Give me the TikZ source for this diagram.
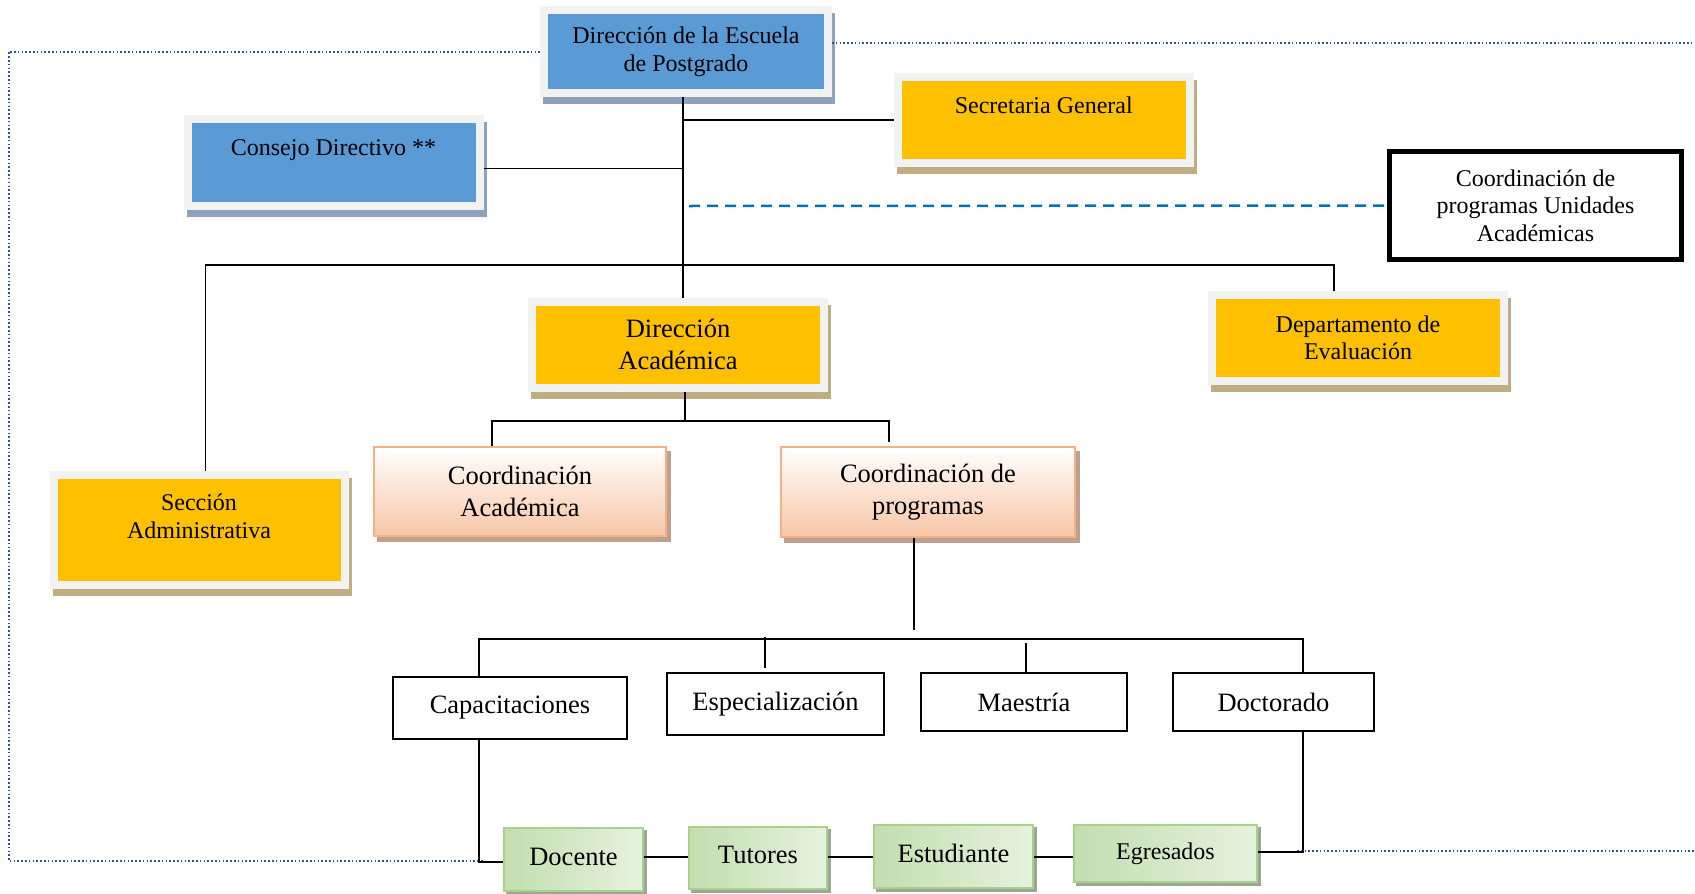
\documentclass[tikz,border=0pt]{standalone}
\usepackage{fontspec}
\setmainfont{Liberation Serif}
\usetikzlibrary{shadows}
\definecolor{orF}{HTML}{FFC000}
\definecolor{frameG}{HTML}{F2F2F2}
\definecolor{tanS}{HTML}{BFAE82}
\definecolor{blueF}{HTML}{5B9BD5}
\definecolor{blueS}{HTML}{8DA3BD}
\definecolor{peachB}{HTML}{F4B183}
\definecolor{peachF}{HTML}{F7C6A6}
\definecolor{peachS}{HTML}{BFA08E}
\definecolor{greenB}{HTML}{A9D18E}
\definecolor{greenD}{HTML}{C2DEAE}
\definecolor{greenL}{HTML}{E6F2DE}
\definecolor{greyS}{HTML}{9EA598}
\definecolor{dashB}{HTML}{0070C0}
\definecolor{dotB}{HTML}{2F5597}
\newcommand\fsA{\fontsize{24pt}{27.5pt}\selectfont}
\newcommand\fsB{\fontsize{26.5pt}{31.5pt}\selectfont}
\begin{document}
\begin{tikzpicture}[x=1pt,y=-1pt,
  base/.style={rectangle, inner sep=0pt, align=center},
  fbox/.style={base, draw=frameG, line width=8pt,
    general shadow={fill=#1, draw=#1, line width=8pt, shadow xshift=3pt, shadow yshift=-7pt}},
  obox/.style={fbox=tanS, fill=orF},
  bbox/.style={fbox=blueS, fill=blueF},
  pbox/.style={base, draw=peachB, line width=2.5pt, top color=white, bottom color=peachF,
    general shadow={fill=peachS, draw=peachS, line width=2.5pt, shadow xshift=4pt, shadow yshift=-5pt}},
  gbox/.style={base, draw=greenB, line width=2.5pt, left color=greenD, right color=greenL,
    text height=18pt, text depth=7pt,
    general shadow={fill=greyS, draw=greyS, line width=2.5pt, shadow xshift=3pt, shadow yshift=-3pt}},
  lbox/.style={base, draw=black, line width=1.3pt, fill=white},
  conn/.style={draw=black, line width=1.2pt},
  bdash/.style={draw=dashB, line width=2.5pt, dash pattern=on 11pt off 7pt},
  dotf/.style={draw=dotB, line width=2pt, dash pattern=on 1.6pt off 2.2pt}
]
\useasboundingbox (0,0) rectangle (1695,894);

% boxes
\node[bbox, minimum width=284pt, minimum height=83pt, font=\fsA] (dir) at (686,51.5) {Dirección de la Escuela\\de Postgrado};
\node[bbox, minimum width=292pt, minimum height=86.5pt, font=\fsA, text height=17pt, text depth=31.5pt] (cons) at (333.5,162.25) {Consejo Directivo **};
\node[obox, minimum width=292.5pt, minimum height=86pt, font=\fsA, text height=17pt, text depth=31pt] (sec) at (1043.75,120) {Secretaria General};
\node[base, draw=black, line width=5pt, fill=white, minimum width=292pt, minimum height=108pt, font=\fsA] (cpua) at (1535.5,205.5) {Coordinación de\\programas Unidades\\Académicas};
\node[obox, minimum width=292pt, minimum height=86pt, font=\fsB] (dacad) at (678,344.5) {Dirección\\Académica};
\node[obox, minimum width=292pt, minimum height=86pt, font=\fsA] (deval) at (1358,338) {Departamento de\\Evaluación};
\node[obox, minimum width=291.5pt, minimum height=109.5pt] (sadm) at (199.25,529.75) {};
\node[base, font=\fsA] (sadmt) at (199,516.5) {Sección\\Administrativa};
\node[pbox, minimum width=292pt, minimum height=89pt, font=\fsB] (cacad) at (520,491.5) {Coordinación\\Académica};
\node[pbox, minimum width=294pt, minimum height=90pt, font=\fsB] (cprog) at (928,492) {Coordinación de\\programas};

\node[lbox, minimum width=234pt, minimum height=62pt, font=\fsB] (capa) at (510,708) {Capacitaciones};
\node[lbox, minimum width=217pt, minimum height=62pt, font=\fsB] (espe) at (775.5,704) {Especialización};
\node[lbox, minimum width=206pt, minimum height=58pt, font=\fsB] (maes) at (1024,702) {Maestría};
\node[lbox, minimum width=201pt, minimum height=58pt, font=\fsB] (doct) at (1273.5,702) {Doctorado};

\node[gbox, minimum width=139pt, minimum height=63pt, font=\fsB] (doce) at (573.5,859.5) {Docente};
\node[gbox, minimum width=138pt, minimum height=62pt, font=\fsB] (tuto) at (758,858) {Tutores};
\node[gbox, minimum width=159pt, minimum height=63pt, font=\fsB] (estu) at (953.5,856.5) {Estudiante};
\node[gbox, minimum width=183pt, minimum height=57pt, font=\fsA] (egre) at (1165.5,853.5) {Egresados};

% helper coordinates
\coordinate (tr) at (683,0);
\coordinate (ds) at (689,206);
\coordinate (hl) at (0,265);
\coordinate (b1) at (685,421);
\coordinate (cpe) at (914,630);
\coordinate (h2) at (0,639);
\coordinate (ev1) at (765,637);
\coordinate (mv1) at (1026,643);
\coordinate (gl) at (0,857);
\coordinate (fTL) at (9,51.5);
\coordinate (fBL) at (9,861);
\coordinate (fBE) at (484,861);
\coordinate (fTR) at (1695,43);
\coordinate (fBRs) at (1297,851);
\coordinate (fBRe) at (1695,851);

% dotted frame
\draw[dotf] (dir.west) -- (fTL) -- (fBL) -- (fBE);
\draw[dotf] (dir.east |- fTR) -- (fTR);
\draw[dotf] (fBRs) -- (fBRe);

% connectors
\draw[conn] (dir.south -| tr) -- (dacad.north -| tr);
\draw[conn] ([yshift=-6pt]cons.east) -- ([yshift=-6pt]cons.east -| tr);
\draw[conn] (sec.west) -- (sec.west -| tr);
\draw[bdash] (ds) -- (cpua.west);
\draw[conn] ([xshift=6pt]sadm.north) |- ([xshift=-24pt]deval.north |- hl) -- ([xshift=-24pt]deval.north);
\draw[conn] (dacad.south -| b1) -- (b1);
\draw[conn] ([xshift=-28pt]cacad.north) |- (b1) -| ([xshift=-39pt,yshift=4pt]cprog.north);
\draw[conn] (cprog.south -| cpe) -- (cpe);
\draw[conn] ([xshift=-31pt]capa.north) -- ([xshift=-31pt]capa.north |- h2) -- ([xshift=29.5pt]doct.north |- h2) -- ([xshift=29.5pt]doct.north);
\draw[conn] (ev1) -- ([yshift=4pt]espe.north -| ev1);
\draw[conn] (mv1) -- (maes.north -| mv1);
\draw[conn] ([xshift=-31pt]capa.south) |- ([yshift=-2.5pt]doce.west);
\draw[conn] (doce.east |- gl) -- (tuto.west |- gl);
\draw[conn] (tuto.east |- gl) -- (estu.west |- gl);
\draw[conn] (estu.east |- gl) -- (egre.west |- gl);
\draw[conn] ([yshift=1.5pt]egre.east) -| ([xshift=29.5pt]doct.south);
\end{tikzpicture}
\end{document}
